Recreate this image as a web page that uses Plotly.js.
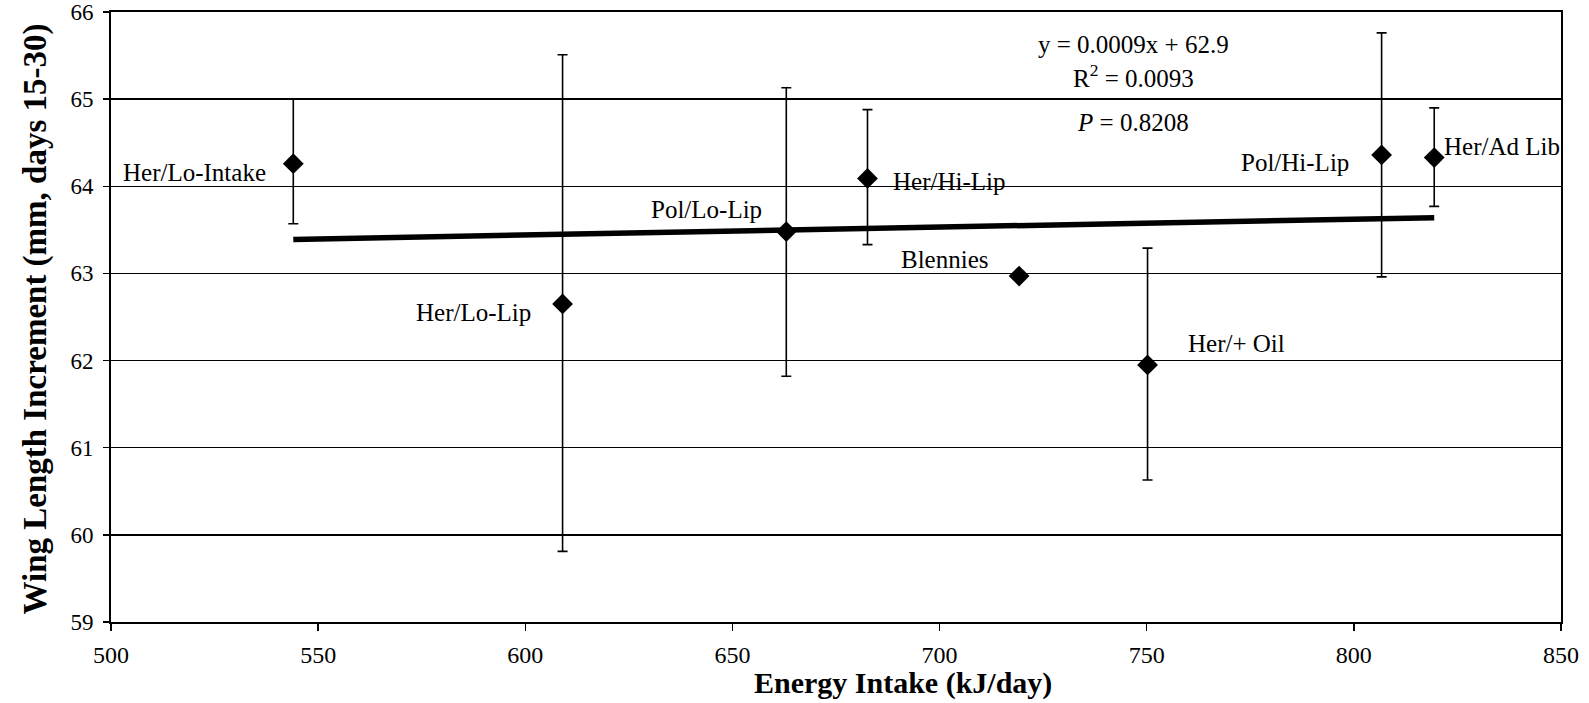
<!DOCTYPE html>
<html>
<head>
<meta charset="utf-8">
<script src="https://cdn.plot.ly/plotly-3.0.1.min.js"></script>
<style>html,body{margin:0;padding:0;background:#fff;}#chart{width:1589px;height:703px;}</style>
</head>
<body>
<div id="chart"></div>
<script>
// ---- data ----
const groups = ["Her/Lo-Intake", "Her/Lo-Lip", "Pol/Lo-Lip", "Her/Hi-Lip", "Blennies", "Her/+ Oil", "Pol/Hi-Lip", "Her/Ad Lib"];
const energyIntake = [544, 609, 663, 682.6, 719.2, 750.2, 806.7, 819.4];
const wingIncrement = [64.26, 62.65, 63.48, 64.09, 62.97, 61.95, 64.36, 64.33];
const errPlus = [0.74, 2.86, 1.65, 0.79, 0, 1.34, 1.40, 0.57];
const errMinus = [0.69, 2.84, 1.66, 0.76, 0, 1.32, 1.40, 0.56];
const trendX = [544, 819.4];
const trendY = [63.39, 63.64];
const equationLines = ["y = 0.0009x + 62.9", "R<sup>2</sup> = 0.0093", "<i>P</i> = 0.8208"];
const xTicks = [500, 550, 600, 650, 700, 750, 800, 850];
const yTicks = [59, 60, 61, 62, 63, 64, 65, 66];
const xTitle = "Energy Intake (kJ/day)";
const yTitle = "Wing Length Increment (mm, days 15-30)";

// ---- label placement (style, not data) ----
const labelPlace = [
  {anchor: "right", dx: -25, dy: -9},
  {anchor: "right", dx: -30, dy: -9},
  {anchor: "right", dx: -22, dy: 22},
  {anchor: "left",  dx: 24,  dy: -3},
  {anchor: "right", dx: -28, dy: 17},
  {anchor: "left",  dx: 38,  dy: 21},
  {anchor: "right", dx: -31, dy: -8},
  {anchor: "left",  dx: 8,   dy: 11}
];

const FONT = "Liberation Serif, Times New Roman, serif";

const traces = [
  {
    x: trendX, y: trendY, mode: "lines", type: "scatter",
    line: {color: "#000", width: 5.5}, hoverinfo: "skip", showlegend: false
  },
  {
    x: energyIntake, y: wingIncrement, mode: "markers", type: "scatter",
    text: groups,
    marker: {symbol: "diamond", size: 16, color: "#000"},
    error_y: {type: "data", symmetric: false, array: errPlus, arrayminus: errMinus,
              color: "#000", thickness: 1.6, width: 5},
    showlegend: false
  }
];

const annotations = groups.map((g, i) => ({
  x: energyIntake[i], y: wingIncrement[i], xref: "x", yref: "y",
  text: g, showarrow: false,
  xanchor: labelPlace[i].anchor, yanchor: "middle",
  xshift: labelPlace[i].dx, yshift: labelPlace[i].dy,
  font: {family: FONT, size: 25, color: "#000"}
}));

const eqY = [45, 76, 123];
equationLines.forEach((t, i) => {
  annotations.push({
    x: 0.705, y: 1 - (eqY[i] - 12) / 610, xref: "paper", yref: "paper",
    text: t, showarrow: false, xanchor: "center", yanchor: "middle",
    font: {family: FONT, size: 25, color: "#000"}
  });
});

// axis titles
annotations.push({
  x: 0.546, y: -0.1, xref: "paper", yref: "paper", showarrow: false,
  xanchor: "center", yanchor: "middle", borderpad: 0,
  text: "<b>" + xTitle + "</b>", font: {family: FONT, size: 30, color: "#000"}
});
annotations.push({
  x: -0.052, y: 0.497, xref: "paper", yref: "paper", showarrow: false,
  xanchor: "center", yanchor: "middle", textangle: -90,
  text: "<b>" + yTitle + "</b>", font: {family: FONT, size: 33, color: "#000"}
});

const layout = {
  width: 1589, height: 703,
  margin: {l: 111, r: 28, t: 12, b: 81, pad: 0},
  paper_bgcolor: "#fff", plot_bgcolor: "#fff",
  font: {family: FONT, color: "#000"},
  showlegend: false,
  xaxis: {
    range: [500, 850], tickvals: xTicks, ticktext: xTicks.map(String),
    showgrid: false, zeroline: false,
    showline: true, linecolor: "#000", linewidth: 2, mirror: true,
    ticks: "outside", ticklen: 7, tickwidth: 1.5, tickcolor: "#000",
    tickfont: {family: FONT, size: 24, color: "#000"},
    ticklabelstandoff: 3
  },
  yaxis: {
    range: [59, 66], tickvals: yTicks, ticktext: yTicks.map(String),
    showgrid: true, gridcolor: "#000", gridwidth: 1.5, zeroline: false,
    showline: true, linecolor: "#000", linewidth: 2, mirror: true,
    ticks: "outside", ticklen: 6, tickwidth: 1.5, tickcolor: "#000",
    tickfont: {family: FONT, size: 23, color: "#000"},
    ticklabelstandoff: 5
  },
  annotations: annotations
};

Plotly.newPlot("chart", traces, layout, {displayModeBar: false, staticPlot: true});
</script>
</body>
</html>
